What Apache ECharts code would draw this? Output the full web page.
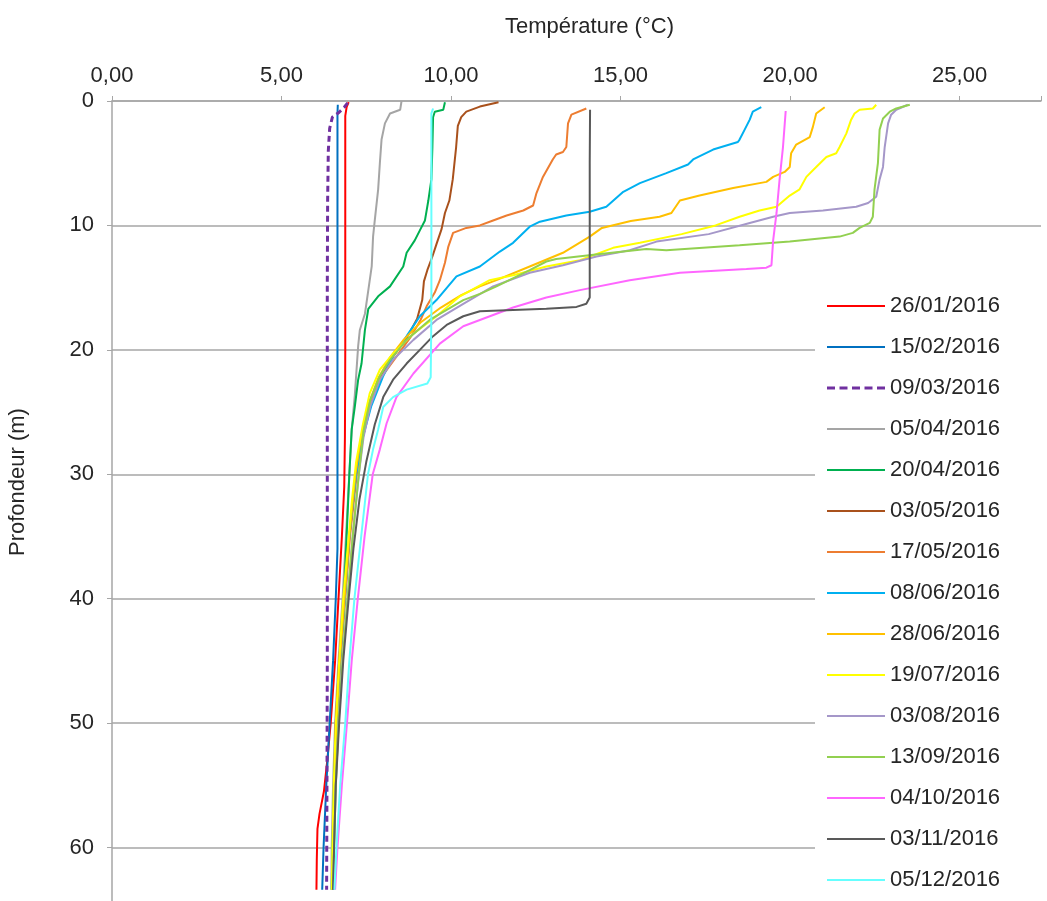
<!DOCTYPE html>
<html>
<head>
<meta charset="utf-8">
<script src="https://cdn.jsdelivr.net/npm/echarts@6/dist/echarts.min.js"></script>
<style>
  html, body { margin: 0; padding: 0; background: #fff; }
  #chart { width: 1047px; height: 901px; }
</style>
</head>
<body>
<div id="chart"></div>
<script>
// Temperature profiles: each point is [temperature (°C), depth (m)]
const dates = ['26/01/2016', '15/02/2016', '09/03/2016', '05/04/2016', '20/04/2016',
  '03/05/2016', '17/05/2016', '08/06/2016', '28/06/2016', '19/07/2016',
  '03/08/2016', '13/09/2016', '04/10/2016', '03/11/2016', '05/12/2016'];

const xTicks = [0, 5, 10, 15, 20, 25];
const yTicks = [0, 10, 20, 30, 40, 50, 60];

const p2601 = [[6.98,0.1],[6.92,0.5],[6.88,1.2],[6.88,10],[6.88,20],[6.87,27],[6.85,31],[6.78,35],[6.68,40],[6.58,45],[6.45,50],[6.35,53],[6.25,55.5],[6.12,57.3],[6.06,58.5],[6.04,61],[6.03,63.4]];
const p1502 = [[6.66,0.3],[6.65,1],[6.65,20],[6.65,36],[6.6,40],[6.52,45],[6.42,50],[6.32,55],[6.24,60],[6.2,63.4]];
const p0903 = [[6.95,0.15],[6.85,0.5],[6.7,0.9],[6.5,1.3],[6.42,2.2],[6.38,4],[6.36,8],[6.35,15],[6.35,30],[6.35,45],[6.34,55],[6.33,63.4]];
const p0504 = [[8.54,0.0],[8.5,0.7],[8.2,1.0],[8.05,1.8],[7.95,3.1],[7.9,5],[7.85,7.1],[7.75,9.6],[7.7,10.9],[7.66,13.3],[7.56,15.2],[7.46,17.1],[7.31,18.4],[7.26,19.7],[7.16,23.7],[7.07,26.4],[7.0,30],[6.9,35],[6.8,40],[6.68,45],[6.58,50],[6.52,55],[6.48,60],[6.47,63.4]];
const p2004 = [[9.82,0.1],[9.77,0.7],[9.52,0.86],[9.47,1.3],[9.45,3.7],[9.42,6.3],[9.33,8],[9.23,9.6],[9.08,10.4],[8.93,11.2],[8.69,12.2],[8.59,13.3],[8.2,14.9],[7.85,15.7],[7.56,16.7],[7.46,18.4],[7.36,21.1],[7.26,22.4],[7.16,24.6],[7.07,26.4],[7.0,30],[6.92,35],[6.84,40],[6.72,45],[6.62,50],[6.55,55],[6.52,60],[6.5,63.4]];
const p0305 = [[11.4,0.1],[10.85,0.45],[10.45,0.85],[10.3,1.3],[10.2,2],[10.15,3.7],[10.05,6.3],[9.95,8],[9.82,9],[9.72,10.3],[9.57,11.5],[9.45,12.5],[9.3,13.6],[9.2,14.5],[9.15,16],[9.0,17.5],[8.7,19],[8.3,20.5],[7.95,22],[7.65,24],[7.4,27],[7.2,30],[7.0,35],[6.85,40],[6.7,45],[6.6,50],[6.55,55],[6.52,60],[6.5,63.4]];
const p1705 = [[13.99,0.6],[13.55,1.1],[13.45,1.8],[13.4,3.7],[13.3,4.1],[13.1,4.3],[13.0,4.7],[12.71,6.1],[12.52,7.4],[12.42,8.4],[12.13,8.8],[11.64,9.2],[11.24,9.6],[10.85,10.0],[10.45,10.2],[10.06,10.6],[9.92,11.7],[9.82,13],[9.67,14.4],[9.52,15.4],[9.28,16.5],[9.1,17.6],[8.8,19],[8.4,20.5],[8.0,22],[7.65,24],[7.4,27],[7.22,30],[7.02,35],[6.88,40],[6.74,45],[6.63,50],[6.56,55],[6.52,60],[6.5,63.4]];
const p0806 = [[19.15,0.5],[18.9,0.86],[18.81,1.5],[18.66,2.3],[18.51,3.1],[18.46,3.3],[17.73,3.9],[17.14,4.7],[16.99,5.1],[16.35,5.8],[15.57,6.6],[15.08,7.3],[14.58,8.5],[14.09,8.9],[13.4,9.2],[12.62,9.7],[12.32,10.1],[11.83,11.4],[11.44,12.1],[10.85,13.3],[10.16,14.1],[9.57,16],[9.08,17.3],[8.69,18.9],[8.29,20.5],[8.0,22.1],[7.65,24.5],[7.4,27],[7.2,30],[7.0,35],[6.87,40],[6.73,45],[6.62,50],[6.55,55],[6.5,60],[6.48,63.4]];
const p2806 = [[21.02,0.5],[20.77,1.0],[20.67,2.1],[20.58,2.9],[20.18,3.5],[20.03,4.2],[19.99,5.3],[19.84,5.7],[19.5,6.1],[19.3,6.5],[18.32,7.0],[17.33,7.6],[16.75,8.0],[16.5,9.0],[16.15,9.3],[15.3,9.65],[14.45,10.2],[14.09,10.9],[13.3,12.2],[12.32,13.3],[11.34,14.4],[10.85,14.9],[10.3,15.6],[9.7,16.6],[9.1,17.8],[8.6,19.2],[8.2,20.6],[7.85,22.3],[7.55,24.5],[7.35,27],[7.18,30],[7.0,35],[6.86,40],[6.72,45],[6.62,50],[6.56,55],[6.52,60],[6.5,63.4]];
const p1907 = [[22.54,0.3],[22.44,0.6],[22.05,0.7],[21.9,1.0],[21.8,1.5],[21.66,2.6],[21.46,3.7],[21.36,4.2],[21.07,4.5],[20.77,5.3],[20.48,6.1],[20.28,7.1],[19.99,7.6],[19.6,8.5],[19.1,8.8],[18.51,9.3],[17.8,10.0],[16.8,10.7],[15.57,11.4],[14.78,11.8],[13.8,12.8],[12.81,13.3],[11.83,14.0],[11.14,14.4],[10.26,15.7],[9.57,17.3],[8.89,18.7],[8.29,20.3],[7.9,21.6],[7.6,23.5],[7.4,26],[7.2,29],[7.08,32],[6.95,36],[6.82,40],[6.7,45],[6.6,50],[6.54,55],[6.5,60],[6.48,63.4]];
const p0308 = [[23.47,0.3],[23.13,0.7],[22.98,1.1],[22.89,1.8],[22.79,3.7],[22.74,5.3],[22.64,6.3],[22.54,7.7],[22.3,8.2],[21.95,8.5],[20.97,8.8],[19.99,9.0],[19.5,9.3],[18.81,9.8],[17.6,10.7],[16.06,11.3],[15.27,12.0],[14.29,12.5],[13.3,13.2],[12.32,13.8],[11.24,14.9],[10.36,16.3],[9.57,17.6],[8.89,19.2],[8.29,20.8],[7.9,22.4],[7.62,24.5],[7.42,27],[7.28,30],[7.1,35],[6.95,40],[6.8,45],[6.68,50],[6.6,55],[6.55,60],[6.52,63.4]];
const p1309 = [[23.53,0.3],[23.13,0.6],[22.94,0.86],[22.74,1.4],[22.64,2.3],[22.59,5.0],[22.49,7.1],[22.44,9.3],[22.35,9.8],[22.05,10.2],[21.85,10.6],[21.46,10.9],[19.99,11.3],[19.5,11.4],[18.51,11.6],[16.35,12.0],[15.76,11.9],[14.4,12.3],[13.1,12.7],[12.81,12.9],[12.32,13.6],[11.34,14.9],[10.85,15.5],[10.36,16.0],[9.37,17.6],[8.69,19.2],[8.2,20.8],[7.9,22.1],[7.62,24],[7.42,26.5],[7.28,30],[7.1,35],[6.95,40],[6.8,45],[6.68,50],[6.6,55],[6.55,60],[6.53,63.4]];
const p0410 = [[19.87,0.8],[19.79,3.7],[19.69,6.3],[19.6,9.0],[19.5,11.2],[19.45,13.2],[19.3,13.4],[18.71,13.5],[16.75,13.8],[15.27,14.4],[13.8,15.2],[12.81,15.8],[11.83,16.6],[10.85,17.6],[10.36,18.1],[9.67,19.5],[8.89,21.9],[8.39,23.8],[8.1,25.9],[7.9,28],[7.69,30],[7.45,35],[7.25,40],[7.07,45],[6.93,50],[6.78,55],[6.65,60],[6.58,63.4]];
const p0311 = [[14.1,0.7],[14.09,5],[14.09,15.8],[13.99,16.3],[13.7,16.55],[12.81,16.7],[11.83,16.8],[10.85,16.9],[10.36,17.3],[9.87,18],[9.47,18.9],[9.08,20],[8.69,21.1],[8.29,22.4],[8.0,23.8],[7.75,26],[7.5,29],[7.3,32],[7.12,36],[6.98,40],[6.82,45],[6.7,50],[6.6,55],[6.55,60],[6.52,63.4]];
const p0512 = [[9.47,0.6],[9.42,1.0],[9.42,17],[9.4,22.2],[9.3,22.7],[8.69,23.2],[8.29,23.8],[8.0,24.6],[7.85,26.4],[7.7,28],[7.55,30],[7.35,35],[7.15,40],[7.0,45],[6.88,50],[6.73,55],[6.62,60],[6.56,63.4]];

const profiles = [p2601, p1502, p0903, p0504, p2004, p0305, p1705, p0806,
  p2806, p1907, p0308, p1309, p0410, p0311, p0512];
const colors = ['#FF0000', '#0070C0', '#7030A0', '#A5A5A5', '#00B050', '#A9511C',
  '#ED7D31', '#00B0F0', '#FFC000', '#FFFF00', '#A597C9', '#92D050', '#FF66FF',
  '#595959', '#66FFFF'];

const FONT = '"Liberation Sans", Arial, sans-serif';
const TEXT = '#262626';
const AXIS = '#A6A6A6';

// legend keys: a plain stroke, and a dashed one for the dashed profile
const ICON_SOLID = 'path://M0,0h58v2h-58z';
const ICON_DASHED = 'path://M0,0h8v3h-8zM12.5,0h8v3h-8zM25,0h8v3h-8zM37.5,0h8v3h-8zM50,0h8v3h-8z';
const DASHED = 2;

const chart = echarts.init(document.getElementById('chart'), null, { renderer: 'canvas' });

const series = profiles.map((pts, i) => ({
  name: dates[i],
  type: 'line',
  data: pts,
  symbol: 'none',
  showSymbol: false,
  smooth: false,
  lineStyle: { color: colors[i], width: i === DASHED ? 3 : 2, type: i === DASHED ? [6, 4] : 'solid' },
  itemStyle: { color: colors[i] },
  z: 3
}));

const fmtTemp = v => (xTicks.includes(v) ? v.toFixed(2).replace('.', ',') : '');
const fmtDepth = v => (yTicks.includes(v) ? String(v) : '');

chart.setOption({
  animation: false,
  backgroundColor: '#ffffff',
  grid: { left: 112, top: 101, right: 6, bottom: 0 },
  xAxis: {
    type: 'value',
    position: 'top',
    min: 0,
    max: 27.4,
    interval: 5,
    axisLine: { show: true, lineStyle: { color: AXIS, width: 1.5 } },
    axisTick: { show: true, length: 5, lineStyle: { color: AXIS } },
    axisLabel: { formatter: fmtTemp, fontSize: 22, color: TEXT, fontFamily: FONT, margin: 14 },
    splitLine: { show: false }
  },
  yAxis: {
    type: 'value',
    inverse: true,
    min: 0,
    max: 64.3,
    interval: 10,
    axisLine: { show: true, lineStyle: { color: AXIS, width: 1.5 } },
    axisTick: { show: true, length: 5, lineStyle: { color: AXIS } },
    axisLabel: { formatter: fmtDepth, fontSize: 22, color: TEXT, fontFamily: FONT, margin: 18 },
    splitLine: { show: true, showMaxLine: false, lineStyle: { color: AXIS, width: 1.5 } }
  },
  legend: {
    orient: 'vertical',
    left: 815,
    top: 284,
    itemWidth: 58,
    itemHeight: 3,
    itemGap: 17,
    padding: [10, 60, 0, 12],
    backgroundColor: '#ffffff',
    textStyle: { fontSize: 22, color: TEXT, fontFamily: FONT, lineHeight: 24 },
    data: dates.map((d, i) => ({ name: d, icon: i === DASHED ? ICON_DASHED : ICON_SOLID }))
  },
  graphic: [
    {
      type: 'text',
      left: 505,
      top: 16,
      style: { text: 'Température (°C)', fontSize: 22, fill: TEXT, fontFamily: FONT }
    },
    {
      type: 'text',
      x: 7,
      y: 556,
      rotation: Math.PI / 2,
      style: { text: 'Profondeur (m)', fontSize: 22, fill: TEXT, fontFamily: FONT }
    }
  ],
  series: series
});
</script>
</body>
</html>
